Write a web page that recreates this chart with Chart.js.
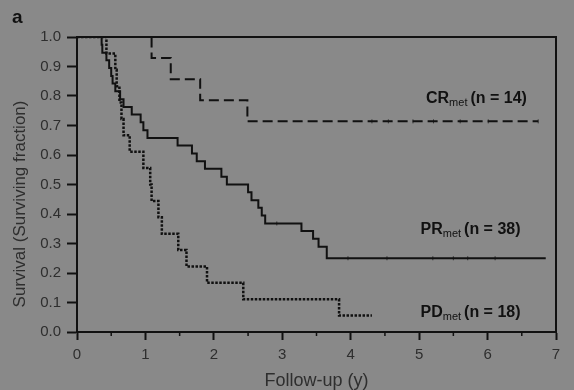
<!DOCTYPE html>
<html>
<head>
<meta charset="utf-8">
<script src="https://cdn.jsdelivr.net/npm/chart.js@4.4.1/dist/chart.umd.min.js"></script>
<style>
  html, body { margin: 0; padding: 0; background: #898989; }
  #wrap { width: 574px; height: 390px; }
</style>
</head>
<body>
<div id="wrap"><canvas id="km" width="574" height="390"></canvas></div>
<script>
// Kaplan-Meier steps (time in years, surviving fraction)
var crTimes = [0, 1.09, 1.37, 1.80, 2.49, 6.74];
var crSurv  = [1, 0.929, 0.857, 0.786, 0.714, 0.714];

var prTimes = [0, 0.36, 0.37, 0.43, 0.47, 0.50, 0.52, 0.56, 0.63, 0.68, 0.80, 0.93, 0.97, 1.03,
               1.47, 1.68, 1.75, 1.87, 2.11, 2.19, 2.50, 2.55, 2.65, 2.70, 2.75, 3.28, 3.45, 3.53, 3.65, 6.85];
var prSurv  = [1, 0.974, 0.947, 0.921, 0.895, 0.868, 0.842, 0.816, 0.789, 0.763, 0.737, 0.711, 0.684, 0.658,
               0.632, 0.605, 0.579, 0.553, 0.526, 0.500, 0.474, 0.447, 0.421, 0.395, 0.368, 0.342, 0.316, 0.289, 0.250, 0.250];

var pdTimes = [0, 0.43, 0.56, 0.58, 0.62, 0.65, 0.68, 0.77, 0.97, 1.07, 1.09, 1.19, 1.24, 1.48, 1.60, 1.90, 2.43, 3.83, 4.31];
var pdSurv  = [1, 0.944, 0.889, 0.833, 0.778, 0.722, 0.667, 0.611, 0.556, 0.500, 0.444, 0.389, 0.333, 0.278, 0.222, 0.167, 0.111, 0.056, 0.056];

// censored observations (tick marks on the curves)
var crCensorT = [4.31, 4.55, 4.91, 5.21, 5.60, 6.01, 6.74];
var crCensorS = [0.714, 0.714, 0.714, 0.714, 0.714, 0.714, 0.714];
var prCensorT = [2.92, 3.96, 4.53, 5.20, 5.50, 5.71, 6.11];
var prCensorS = [0.368, 0.25, 0.25, 0.25, 0.25, 0.25, 0.25];

var xTicks = [0, 1, 2, 3, 4, 5, 6, 7];
var groupNames = ['CR', 'PR', 'PD'];
var groupN = [14, 38, 18];

function pts(ts, ss) {
  return ts.map(function (t, i) { return { x: t, y: ss[i] }; });
}

var ink = '#111';
var grey = '#2e2e2e';
var fam = '"Liberation Sans", Arial, sans-serif';

var extras = {
  id: 'extras',
  afterDraw: function (chart) {
    var ctx = chart.ctx, a = chart.chartArea;
    var xs = chart.scales.x, ys = chart.scales.y;
    ctx.save();
    // frame top and right
    ctx.strokeStyle = ink;
    ctx.lineWidth = 2;
    ctx.beginPath();
    ctx.moveTo(a.left, a.top);
    ctx.lineTo(a.right, a.top);
    ctx.lineTo(a.right, a.bottom);
    ctx.stroke();
    // minor x ticks
    ctx.lineWidth = 1.5;
    for (var k = 0; k < xTicks.length - 1; k++) {
      var px = xs.getPixelForValue(xTicks[k] + 0.5);
      ctx.beginPath();
      ctx.moveTo(px, a.bottom);
      ctx.lineTo(px, a.bottom + 4);
      ctx.stroke();
    }
    // y axis title (sits a bit below the plot centre in the original)
    ctx.fillStyle = grey;
    ctx.font = '17px ' + fam;
    ctx.textAlign = 'center';
    ctx.textBaseline = 'middle';
    ctx.translate(20, 204);
    ctx.rotate(-Math.PI / 2);
    ctx.fillText('Survival (Surviving fraction)', 0, 0);
    ctx.setTransform(1, 0, 0, 1, 0, 0);
    // curve labels with subscript
    var spots = [[5.10, 0.776], [5.02, 0.332], [5.02, 0.051]];
    ctx.fillStyle = ink;
    ctx.textAlign = 'left';
    ctx.textBaseline = 'alphabetic';
    for (var g = 0; g < groupNames.length; g++) {
      var lx = xs.getPixelForValue(spots[g][0]);
      var ly = ys.getPixelForValue(spots[g][1]);
      ctx.font = 'bold 16px ' + fam;
      ctx.fillText(groupNames[g], lx, ly);
      lx += ctx.measureText(groupNames[g]).width;
      ctx.font = '11px ' + fam;
      ctx.fillText('met', lx, ly + 3);
      lx += ctx.measureText('met').width + 3;
      ctx.font = 'bold 16px ' + fam;
      ctx.fillText('(n = ' + groupN[g] + ')', lx, ly);
    }
    // panel letter
    ctx.font = 'bold 19px ' + fam;
    ctx.fillText('a', 12, 23);
    ctx.restore();
  }
};

var censorStyle = {
  type: 'scatter',
  pointStyle: 'line',
  rotation: 90,
  pointRadius: 2,
  borderColor: '#333',
  backgroundColor: '#333',
  pointBorderWidth: 1
};

new Chart(document.getElementById('km'), {
  type: 'line',
  data: {
    datasets: [
      { data: pts(crTimes, crSurv), stepped: true, borderColor: ink, borderWidth: 2,
        borderDash: [10, 5], pointRadius: 0, fill: false },
      { data: pts(prTimes, prSurv), stepped: true, borderColor: ink, borderWidth: 2,
        pointRadius: 0, fill: false },
      { data: pts(pdTimes, pdSurv), stepped: true, borderColor: ink, borderWidth: 2.5,
        borderDash: [2.5, 1.5], pointRadius: 0, fill: false },
      Object.assign({ data: pts(crCensorT, crCensorS) }, censorStyle),
      Object.assign({ data: pts(prCensorT, prCensorS) }, censorStyle)
    ]
  },
  options: {
    responsive: false,
    animation: false,
    layout: { padding: { top: 37, right: 18, left: 0, bottom: 0 } },
    plugins: { legend: { display: false }, tooltip: { enabled: false } },
    scales: {
      x: {
        type: 'linear', min: 0, max: 7,
        afterFit: function (s) { s.height = 58; },
        afterBuildTicks: function (s) { s.ticks = xTicks.map(function (v) { return { value: v }; }); },
        ticks: { color: grey, padding: 6, font: { size: 15, family: fam } },
        grid: { drawOnChartArea: false, tickLength: 8, tickColor: ink, tickWidth: 2 },
        border: { color: ink, width: 2 },
        title: { display: true, text: 'Follow-up (y)', color: grey, padding: { top: 0, bottom: 0 },
                 font: { size: 18, family: fam, lineHeight: 1.0 } }
      },
      y: {
        min: 0, max: 1,
        afterFit: function (s) { s.width = 77; },
        ticks: { stepSize: 0.1, color: grey, padding: 6,
                 callback: function (v) { return v.toFixed(1); },
                 font: { size: 15, family: fam } },
        grid: { drawOnChartArea: false, tickLength: 10, tickColor: ink, tickWidth: 2 },
        border: { color: ink, width: 2 }
      }
    }
  },
  plugins: [extras]
});
</script>
</body>
</html>
